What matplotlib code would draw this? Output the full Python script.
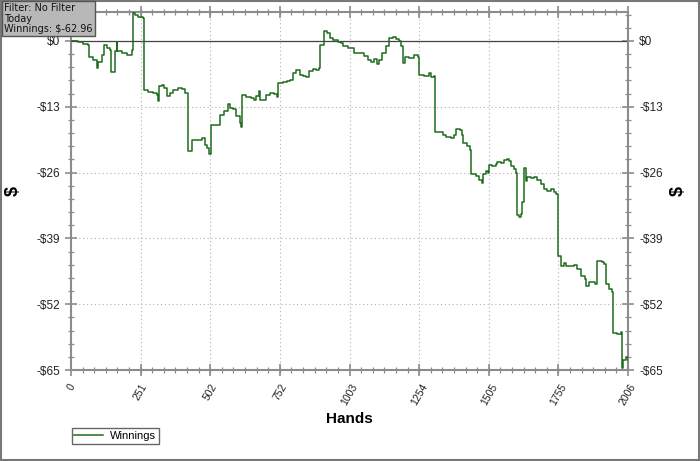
import numpy as np
import matplotlib
matplotlib.use("Agg")
import matplotlib.pyplot as plt
from matplotlib.ticker import MultipleLocator, FixedLocator
from matplotlib.patches import Rectangle

# Datos de la curva (manos, ganancias en $)
manos = [0, 26, 43, 62, 66, 80, 92, 98, 110, 120, 128, 140, 144, 158, 164, 166, 182, 200, 218,
         222, 230, 242, 260, 264, 278, 296, 308, 312, 317, 326, 335, 344, 356, 368, 386, 400, 410,
         420, 422, 436, 452, 470, 482, 491, 496, 506, 538, 550, 566, 572, 583, 596, 608, 614, 617,
         632, 650, 658, 668, 677, 679, 691, 701, 715, 730, 742, 747, 763, 778, 790, 799, 811, 823,
         835, 847, 857, 871, 883, 893, 898, 910, 921, 934, 943, 961, 973, 979, 997, 1021, 1039,
         1057, 1069, 1081, 1093, 1101, 1111, 1121, 1135, 1147, 1159, 1171, 1180, 1189, 1195, 1204,
         1219, 1237, 1249, 1255, 1273, 1288, 1297, 1306, 1312, 1327, 1341, 1351, 1369, 1381, 1387,
         1401, 1408, 1413, 1425, 1437, 1441, 1459, 1470, 1480, 1485, 1494, 1500, 1504, 1518, 1530,
         1536, 1548, 1560, 1572, 1578, 1584, 1596, 1602, 1606, 1612, 1620, 1626, 1632, 1638, 1644,
         1656, 1668, 1680, 1692, 1704, 1716, 1728, 1740, 1748, 1754, 1764, 1776, 1784, 1800, 1812,
         1824, 1836, 1851, 1856, 1866, 1876, 1887, 1896, 1911, 1920, 1926, 1938, 1947, 1952, 1968,
         1980, 1983, 1986, 1989, 1998, 2006]
ganancias = [0.0, -0.3, -0.6, -0.8, -3.1, -3.7, -5.4, -4.2, -2.8, -0.8, -1.4, -1.8, -6.2, -2.1, -0.3,
             -2.1, -2.4, -2.8, -1.8, 5.6, 5.1, 4.8, 4.6, -9.8, -10.1, -10.3, -10.6, -11.8, -9.0, -8.7,
             -9.3, -10.8, -10.3, -9.8, -9.4, -9.6, -10.3, -11.9, -21.8, -19.5, -19.5, -19.2, -20.5,
             -21.1, -22.4, -16.7, -14.6, -13.9, -12.4, -13.3, -13.4, -14.9, -16.2, -17.0, -10.6, -11.0,
             -11.3, -11.6, -10.8, -10.0, -11.6, -11.7, -10.6, -10.3, -10.4, -11.0, -8.3, -8.2, -8.0,
             -7.8, -6.4, -5.8, -6.7, -7.0, -7.2, -6.0, -5.6, -5.8, -5.4, -0.8, 2.0, 1.5, 0.5, 0.1,
             -0.3, -0.5, -1.1, -1.4, -2.3, -2.4, -3.0, -3.7, -4.1, -3.6, -4.5, -3.7, -2.4, -1.1, 0.5,
             0.7, 0.3, -0.1, -1.1, -4.4, -3.2, -3.4, -2.8, -3.1, -6.7, -6.9, -6.4, -7.2, -7.0, -17.9,
             -18.0, -18.5, -19.0, -19.2, -18.5, -17.5, -17.7, -18.5, -20.1, -20.7, -21.6, -26.2,
             -26.7, -27.4, -28.1, -26.2, -25.7, -26.0, -24.6, -24.7, -24.4, -24.0, -24.1, -23.6,
             -23.3, -23.8, -24.7, -25.4, -26.0, -34.3, -34.7, -34.1, -31.9, -25.1, -27.7, -26.8,
             -27.0, -26.8, -27.4, -28.3, -29.3, -29.7, -29.3, -29.9, -30.3, -42.5, -44.4, -43.9,
             -44.4, -44.5, -44.3, -45.1, -46.4, -47.0, -48.4, -47.7, -47.6, -48.0, -43.4, -43.6,
             -44.1, -48.0, -49.0, -49.5, -57.7, -57.9, -57.4, -60.2, -64.6, -63.1, -62.5, -62.96]

ticks_x = [0, 251, 502, 752, 1003, 1254, 1505, 1755, 2006]
ticks_y = [-65, -52, -39, -26, -13, 0]
etiquetas_y = ["-$65", "-$52", "-$39", "-$26", "-$13", "$0"]

plt.rcParams['font.family'] = ['Liberation Sans', 'DejaVu Sans']

fig = plt.figure(figsize=(7, 4.61), dpi=100)
ax = fig.add_axes([71 / 700, 1 - 370 / 461, (628 - 71) / 700, (370 - 12) / 461])

gris = "#8c8c8c"

# Linea de ganancias (escalonada, como el original)
ax.plot(manos, ganancias, drawstyle="steps-post", color="#1e6b1e", lw=1.1, label="Winnings", zorder=3)
ax.axhline(0, color="#444444", lw=0.9, zorder=2)

ax.set_xlim(0, 2006)
ax.set_ylim(-65, 5.7)

ax.xaxis.set_major_locator(FixedLocator(ticks_x))
ax.xaxis.set_minor_locator(FixedLocator(np.arange(0, 2006, 2006 / 48)))
ax.yaxis.set_major_locator(FixedLocator(ticks_y))
ax.yaxis.set_minor_locator(MultipleLocator(2.6))
ax.set_xticklabels([str(t) for t in ticks_x], rotation=60, fontsize=7.5, color="#222222")
ax.set_yticks(ticks_y)
ax.set_yticklabels(etiquetas_y, fontsize=8.5, color="#222222")

ax.tick_params(which="both", direction="inout", color=gris, top=True, right=True,
               labelright=True)
ax.tick_params(which="major", length=9, width=1.2)
ax.tick_params(which="minor", length=5, width=0.9)
ax.tick_params(axis="x", pad=4)

for s in ax.spines.values():
    s.set_color(gris)
    s.set_linewidth(1.5)

ax.grid(True, which="major", linestyle=(0, (1, 2.5)), color="#b0b0b0", lw=0.8)

ax.set_xlabel("Hands", fontsize=11, fontweight="bold", labelpad=4)
ax.set_ylabel("$", fontsize=13, fontweight="bold", labelpad=10)
fig.text(0.969, 0.585, "$", fontsize=13, fontweight="bold", rotation=90, ha="center", va="center")

# Leyenda abajo a la izquierda
fig.legend(loc="lower left", bbox_to_anchor=(66 / 700, 0.025), fontsize=8, fancybox=False,
           edgecolor="#666666", framealpha=1, handlelength=2.6, borderpad=0.25,
           handletextpad=0.6)

# Caja de informacion
fig.text(0.006, 0.994, "Filter: No Filter\nToday\nWinnings: $-62.96", fontsize=7, va="top",
         ha="left", linespacing=1.1, color="#111111", family="DejaVu Sans",
         bbox=dict(boxstyle="square,pad=0.2", facecolor="#b8b8b8", edgecolor="#555555", lw=1))

# Marco exterior
fig.patches.append(Rectangle((0.001, 0.002), 0.997, 0.996, transform=fig.transFigure,
                             fill=False, edgecolor="#777777", lw=1.5))

fig.savefig("out.png", dpi=100)
